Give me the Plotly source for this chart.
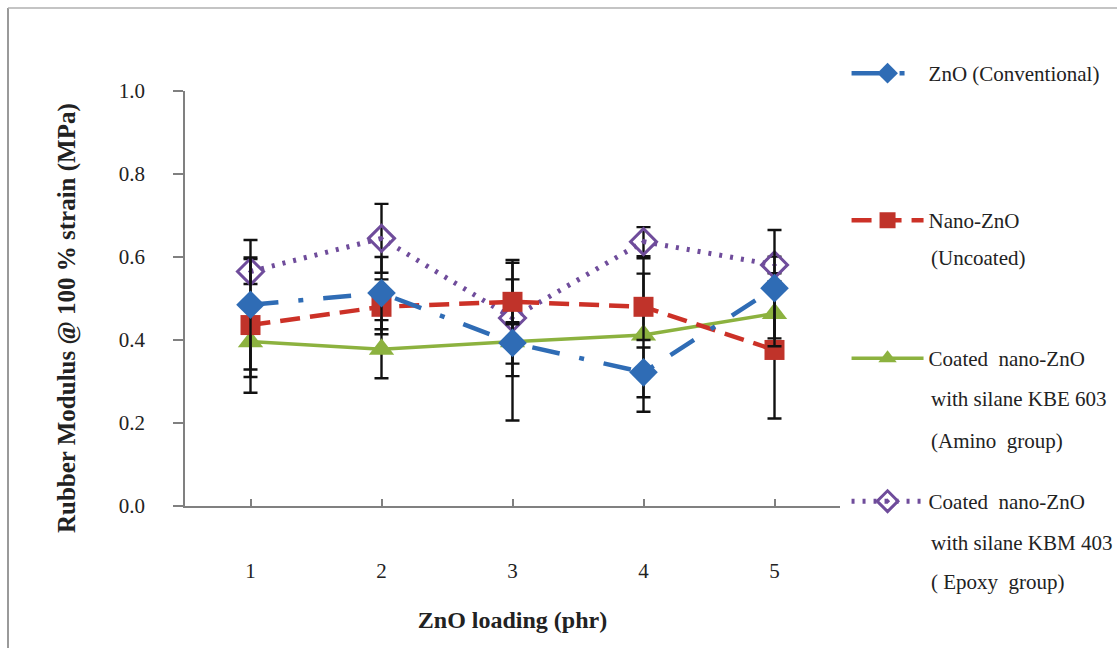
import plotly.graph_objects as go

loading = [1, 2, 3, 4, 5]

conv = [0.485, 0.513, 0.393, 0.322, 0.525]
conv_err = [0.156, 0.087, 0.05, 0.06, 0.14]

nano = [0.436, 0.48, 0.492, 0.48, 0.376]
nano_err = [0.163, 0.066, 0.054, 0.08, 0.165]

kbe = [0.396, 0.378, 0.396, 0.412, 0.464]
kbe_err = [0.085, 0.07, 0.19, 0.185, 0.06]

kbm = [0.565, 0.645, 0.453, 0.637, 0.581]
kbm_err = [0.03, 0.083, 0.14, 0.035, 0.02]

# legend labels: first line is the trace name, further lines follow below it
legend_lines = [
    ["ZnO (Conventional)"],
    ["Nano-ZnO", "(Uncoated)"],
    ["Coated  nano-ZnO", "with silane KBE 603", "(Amino  group)"],
    ["Coated  nano-ZnO", "with silane KBM 403", "( Epoxy  group)"],
]

y_ticks = [0.0, 0.2, 0.4, 0.6, 0.8, 1.0]

FONT = "Liberation Serif, Times New Roman, serif"
TXT = "#222222"
AX = "#808080"

# plot area in pixels (used only to place legend blocks / frame)
L, R, T, B = 185, 840, 91, 506
def px(xp):
    return (xp - L) / (R - L)
def py(yp):
    return (B - yp) / (B - T)

def err(vals):
    return dict(type="data", array=vals, visible=True, color="#111111",
                thickness=2.4, width=7)

fig = go.Figure()

fig.add_trace(go.Scatter(
    x=loading, y=kbm, name=legend_lines[3][0], legend="legend4",
    mode="lines+markers",
    line=dict(color="#6F4C9B", width=5, dash="3px,8px"),
    marker=dict(symbol="diamond-open-dot", size=20, color="#6F4C9B",
                line=dict(width=3, color="#6F4C9B")),
    error_y=err(kbm_err),
))
fig.add_trace(go.Scatter(
    x=loading, y=kbe, name=legend_lines[2][0], legend="legend3",
    mode="lines+markers",
    line=dict(color="#8CB23F", width=3.5),
    marker=dict(symbol="triangle-up", size=22, color="#8CB23F"),
    error_y=err(kbe_err),
))
fig.add_trace(go.Scatter(
    x=loading, y=nano, name=legend_lines[1][0], legend="legend2",
    mode="lines+markers",
    line=dict(color="#CC3127", width=4.5, dash="20px,10px"),
    marker=dict(symbol="square", size=20, color="#C0332A"),
    error_y=err(nano_err),
))
fig.add_trace(go.Scatter(
    x=loading, y=conv, name=legend_lines[0][0], legend="legend",
    mode="lines+markers",
    line=dict(color="#2F6CB5", width=4.5, dash="28px,20px,5px,20px"),
    marker=dict(symbol="diamond", size=22, color="#2F6CB5"),
    error_y=err(conv_err),
))

leg_common = dict(
    font=dict(family=FONT, size=21, color=TXT),
    bgcolor="rgba(0,0,0,0)", itemwidth=72, valign="middle",
    xanchor="left", yanchor="top", x=1.01,
)

# top edges (px) of each legend entry and follow-on line centres
entry_tops = [53, 200, 338, 481]
extra_line_y = [[], [258], [399, 441], [543, 582]]

annotations = []
for lines, ys in zip(legend_lines, extra_line_y):
    for txt, yy in zip(lines[1:], ys):
        annotations.append(dict(
            text=txt, xref="paper", yref="paper", x=px(929), y=py(yy),
            xanchor="left", yanchor="middle", showarrow=False,
            font=dict(family=FONT, size=21, color=TXT),
        ))

annotations.append(dict(
    text="<b>Rubber Modulus @ 100 % strain (MPa)</b>", textangle=-90,
    xref="paper", yref="paper", x=px(67), y=py(318),
    xanchor="center", yanchor="middle", showarrow=False,
    font=dict(family=FONT, size=25, color=TXT),
))

shapes = [
    dict(type="line", xref="paper", yref="paper", x0=px(8), x1=px(8),
         y0=py(8), y1=py(648), line=dict(color="#9a9a9a", width=2)),
    dict(type="line", xref="paper", yref="paper", x0=px(8), x1=px(1117),
         y0=py(8), y1=py(8), line=dict(color="#b0b0b0", width=1.5)),
]

fig.update_layout(
    width=1117, height=648,
    margin=dict(l=L, r=1117 - R, t=T, b=648 - B),
    paper_bgcolor="white", plot_bgcolor="white",
    font=dict(family=FONT, size=21, color=TXT),
    showlegend=True,
    legend=dict(**leg_common, y=py(entry_tops[0])),
    legend2=dict(**leg_common, y=py(entry_tops[1])),
    legend3=dict(**leg_common, y=py(entry_tops[2])),
    legend4=dict(**leg_common, y=py(entry_tops[3])),
    annotations=annotations,
    shapes=shapes,
    xaxis=dict(
        range=[0.5, 5.5], tickvals=loading, ticktext=[str(v) for v in loading],
        showline=True, linecolor=AX, linewidth=1.5,
        ticks="inside", ticklen=7, tickcolor=AX, tickwidth=1.5,
        showgrid=False, zeroline=False,
        ticklabelstandoff=45,
        tickfont=dict(family=FONT, size=21, color=TXT),
        title=dict(text="<b>ZnO loading (phr)</b>", standoff=29,
                   font=dict(family=FONT, size=24, color=TXT)),
    ),
    yaxis=dict(
        range=[0, 1.0], tickvals=y_ticks, ticktext=[f"{v:.1f}" for v in y_ticks],
        showline=True, linecolor=AX, linewidth=1.5,
        ticks="outside", ticklen=10, tickcolor=AX, tickwidth=1.5,
        showgrid=False, zeroline=False,
        ticklabelstandoff=24,
        tickfont=dict(family=FONT, size=21, color=TXT),
    ),
)

fig.write_html("out.html")
